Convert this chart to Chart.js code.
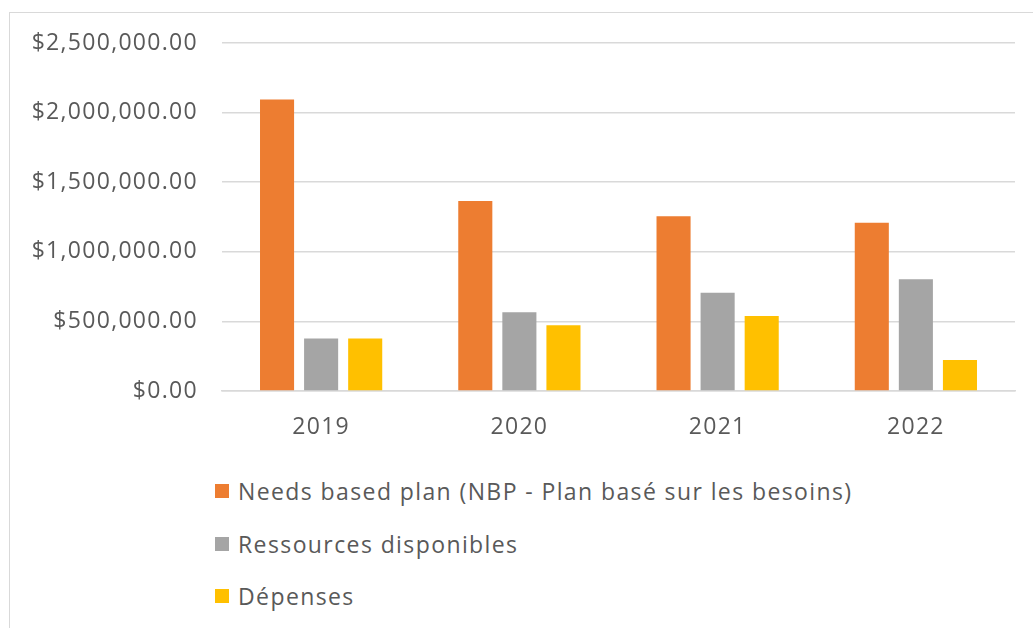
<!DOCTYPE html>
<html>
<head>
<meta charset="utf-8">
<script src="https://cdn.jsdelivr.net/npm/chart.js@4/dist/chart.umd.min.js"></script>
<style>
  html, body { margin: 0; padding: 0; background: #ffffff; overflow: hidden; }
  body { width: 1033px; height: 628px; position: relative; }
  #frame {
    position: absolute; left: 9px; top: 12px; width: 1200px; height: 800px;
    border: 1.5px solid #d9d9d9; box-sizing: border-box;
  }
  #chart { position: absolute; left: 0; top: 0; }
  #legend { position: absolute; left: 215px; top: 0; margin: 0; padding: 0; list-style: none; }
  #legend li {
    position: absolute; left: 0; display: flex; align-items: center; white-space: nowrap;
    height: 30px; font-family: "Open Sans", sans-serif; font-size: 23px; color: #595959;
    letter-spacing: 1.4px;
  }
  #legend .box { width: 14px; height: 14px; margin-right: 9px; flex: none; }
</style>
</head>
<body>
<div id="frame"></div>
<canvas id="chart" width="1033" height="460"></canvas>
<ul id="legend"></ul>
<script>
// Years and funding series
const years = ['2019', '2020', '2021', '2022'];
const needsBasedPlan = [2095000, 1365000, 1255000, 1208000];
const availableResources = [378000, 566000, 705000, 802000];
const expenses = [378000, 473000, 538000, 223000];

const seriesLabels = [
  'Needs based plan (NBP - Plan basé sur les besoins)',
  'Ressources disponibles',
  'Dépenses'
];
const seriesColors = ['#ED7D31', '#A5A5A5', '#FFC000'];

const yMin = 0;
const yMax = 2500000;
const yStep = 500000;

const textColor = '#595959';
const gridColor = '#d9d9d9';
const fontFamily = '"Open Sans", sans-serif';

function money(v) {
  return '$' + Number(v).toLocaleString('en-US', { minimumFractionDigits: 2, maximumFractionDigits: 2 });
}

// Slightly wider tracking for the axis labels
const tracking = {
  id: 'tracking',
  beforeLayout(chart) { chart.ctx.letterSpacing = '1.3px'; },
  beforeDraw(chart) { chart.ctx.letterSpacing = '1.3px'; }
};

// Vertical list legend built from the chart's own datasets
const htmlLegend = {
  id: 'htmlLegend',
  afterUpdate(chart) {
    const ul = document.getElementById('legend');
    ul.innerHTML = '';
    const items = chart.options.plugins.legend.labels.generateLabels(chart);
    items.forEach((item, i) => {
      const li = document.createElement('li');
      li.style.top = (476 + i * 52.5) + 'px';
      const box = document.createElement('span');
      box.className = 'box';
      box.style.background = item.fillStyle;
      const txt = document.createElement('span');
      txt.textContent = item.text;
      li.appendChild(box);
      li.appendChild(txt);
      ul.appendChild(li);
    });
  }
};

const datasets = [needsBasedPlan, availableResources, expenses].map((values, i) => ({
  label: seriesLabels[i],
  data: values,
  backgroundColor: seriesColors[i],
  borderWidth: 0,
  categoryPercentage: 0.667,
  barPercentage: 0.773
}));

new Chart(document.getElementById('chart'), {
  type: 'bar',
  data: { labels: years, datasets },
  options: {
    responsive: false,
    animation: false,
    layout: { padding: { top: 43, right: 18, left: 0, bottom: 0 } },
    plugins: {
      legend: { display: false },
      tooltip: { enabled: false }
    },
    scales: {
      x: {
        grid: { display: false, drawTicks: false },
        border: { display: true, color: gridColor, width: 1.5 },
        ticks: { color: textColor, font: { family: fontFamily, size: 23 }, padding: 23 },
        afterFit(scale) { scale.height = 69; }
      },
      y: {
        min: yMin,
        max: yMax,
        grid: { color: gridColor, lineWidth: 1.5, drawTicks: false },
        border: { display: false },
        ticks: {
          stepSize: yStep,
          color: textColor,
          font: { family: fontFamily, size: 23 },
          padding: 24,
          callback: (v) => money(v)
        },
        afterFit(scale) { scale.width = 222; }
      }
    }
  },
  plugins: [tracking, htmlLegend]
});
</script>
</body>
</html>
